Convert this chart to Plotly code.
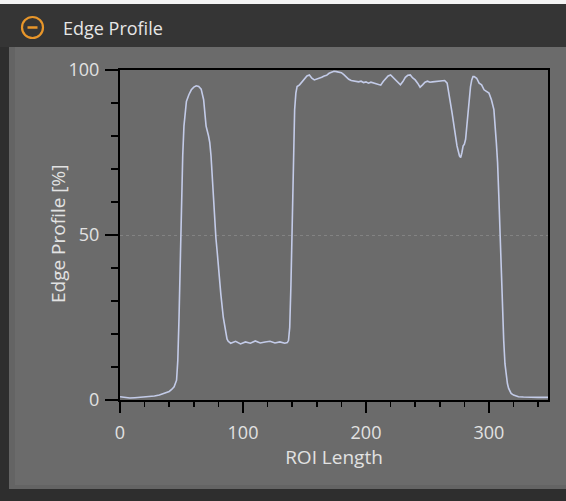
import plotly.graph_objects as go

roi_length = [
    0, 4, 8, 12, 16, 20, 24, 28, 32, 36,
    40, 42, 44, 46, 47, 48, 49, 50, 51, 52,
    53, 54, 56, 58, 60, 62, 64, 66, 68, 70,
    72, 73, 74, 75, 76, 77, 78, 79, 80, 82,
    84, 86, 87, 88, 90, 94, 98, 102, 106, 110,
    114, 118, 122, 126, 130, 134, 136, 137, 138, 139,
    140, 141, 142, 143, 144, 146, 148, 150, 152, 154,
    156, 158, 160, 162, 164, 166, 168, 170, 172, 174,
    176, 178, 180, 182, 184, 186, 188, 190, 192, 194,
    196, 198, 200, 202, 204, 206, 208, 210, 212, 214,
    216, 218, 220, 222, 224, 226, 228, 230, 232, 234,
    236, 238, 240, 242, 244, 246, 248, 250, 252, 254,
    256, 258, 260, 262, 264, 266, 268, 270, 272, 274,
    276, 277, 278, 279, 280, 281, 282, 283, 284, 285,
    286, 287, 288, 290, 292, 294, 296, 298, 300, 302,
    304, 306, 307, 308, 309, 310, 311, 312, 313, 314,
    315, 316, 318, 320, 324, 328, 332, 336, 340, 344,
    348,
]
edge_profile = [
    1.0, 0.8, 0.6, 0.7, 0.8, 0.9, 1.0, 1.2, 1.5, 2.0,
    2.6, 3.2, 4.0, 6.0, 12, 25, 42, 60, 74, 83,
    88, 90.5, 92.5, 94, 94.8, 95.2, 95, 94.2, 91, 83,
    80, 78, 74, 67, 60, 54, 49, 45, 40, 32,
    25, 20, 18.5, 17.8, 17.2, 17.8, 17.0, 17.6, 17.2, 17.9,
    17.3, 17.6, 17.8, 17.3, 17.6, 17.2, 17.4, 18, 22, 35,
    55, 75, 88, 93, 95, 95.5, 96.5, 97.5, 98.2, 98.5,
    97.5, 97, 97.2, 97.6, 97.8, 98.2, 98.4, 99, 99.3, 99.6,
    99.5, 99.4, 99.2, 98.6, 97.8, 97.2, 96.8, 96.6, 96.5, 96.4,
    96.6, 96.2, 96.4, 96.0, 96.3, 96.1, 95.8, 95.6, 95.4, 96.5,
    97.5, 98.2, 98.5, 97.8, 97, 96.2, 95.5, 96.5, 97.8, 98.4,
    98.5, 97.6, 97.0, 96, 94.8, 95.5, 96.3, 96.6, 96.3, 96.4,
    96.5, 96.6, 96.5, 96.7, 96.8, 96.0, 92, 87, 82, 77,
    74, 73.5, 75, 77, 77.5, 79, 83, 88, 92, 95,
    97, 98, 98, 97.5, 96, 95.5, 94, 93.5, 93, 91,
    88, 78, 72, 62, 50, 38, 27, 18, 11, 7,
    5, 3.5, 2, 1.5, 1.0, 0.9, 0.8, 0.8, 0.8, 0.8,
    0.8,
]
x_ticks = [0, 100, 200, 300]
y_ticks = [0, 50, 100]

W, H = 566, 501
L, R, T, B = 120, 18, 70, 101
PW, PH = W - L - R, H - T - B


def px(x):
    return (x - L) / PW


def py(y):
    return (H - B - y) / PH


PANEL = "#6b6b6b"
DARK = "#353535"
TXT = "#e2e2e2"
FONT = "Open Sans, sans-serif"

fig = go.Figure()
fig.add_trace(go.Scatter(
    x=roi_length, y=edge_profile, mode="lines",
    line=dict(color="#c3cbe8", width=1.6), hoverinfo="skip",
))

shapes = [
    dict(type="rect", xref="paper", yref="paper", x0=px(0), x1=px(W), y0=py(0), y1=py(47),
         fillcolor=DARK, line_width=0, layer="below"),
    dict(type="rect", xref="paper", yref="paper", x0=px(0), x1=px(W), y0=py(0), y1=py(4),
         fillcolor="#f4f4f4", line_width=0, layer="below"),
    dict(type="rect", xref="paper", yref="paper", x0=px(0), x1=px(9), y0=py(47), y1=py(H),
         fillcolor="#2e2e2e", line_width=0, layer="below"),
    dict(type="rect", xref="paper", yref="paper", x0=px(9), x1=px(15), y0=py(47), y1=py(489),
         fillcolor="#646464", line_width=0, layer="below"),
    dict(type="rect", xref="paper", yref="paper", x0=px(9), x1=px(W), y0=py(485), y1=py(489),
         fillcolor="#646464", line_width=0, layer="below"),
    dict(type="rect", xref="paper", yref="paper", x0=px(0), x1=px(W), y0=py(489), y1=py(H),
         fillcolor="#2e2e2e", line_width=0, layer="below"),
    dict(type="circle", xref="paper", yref="paper", x0=px(22), x1=px(43), y0=py(17), y1=py(38),
         line=dict(color="#e8962a", width=2.2), fillcolor="rgba(0,0,0,0)"),
    dict(type="line", xref="paper", yref="paper", x0=px(27.5), x1=px(37.5), y0=py(27.5), y1=py(27.5),
         line=dict(color="#e8962a", width=2.5)),
]

fig.update_layout(
    width=W, height=H,
    margin=dict(l=L, r=R, t=T, b=B, pad=0),
    paper_bgcolor=PANEL, plot_bgcolor=PANEL,
    showlegend=False,
    shapes=shapes,
    font=dict(family=FONT, color=TXT, size=18),
    annotations=[
        dict(text="Edge Profile", xref="paper", yref="paper", x=px(61), y=py(28),
             xanchor="left", yanchor="middle", showarrow=False,
             font=dict(size=18, color="#e6e6e6", family=FONT)),
        dict(text="Edge Profile [%]", xref="paper", yref="paper", x=px(58), y=py(234),
             xanchor="center", yanchor="middle", textangle=-90, showarrow=False,
             font=dict(size=19, color=TXT, family=FONT)),
    ],
    xaxis=dict(
        range=[0, 348], tickmode="array", tickvals=x_ticks,
        ticks="outside", ticklen=11, tickwidth=1.5, tickcolor="black",
        minor=dict(dtick=20, tick0=0, ticks="outside", ticklen=5, tickcolor="black", tickwidth=1.5),
        showline=True, linecolor="black", linewidth=2, mirror=True,
        showgrid=False, zeroline=False,
        tickfont=dict(size=18, color=TXT), ticklabelstandoff=4,
        title=dict(text="ROI Length", font=dict(size=19, color=TXT), standoff=4),
    ),
    yaxis=dict(
        range=[0, 100], tickmode="array", tickvals=y_ticks,
        ticks="outside", ticklen=13, tickwidth=1.5, tickcolor="black",
        minor=dict(dtick=10, tick0=0, ticks="outside", ticklen=7, tickcolor="black", tickwidth=1.5,
                   showgrid=False),
        showline=True, linecolor="black", linewidth=2, mirror=True,
        showgrid=True, gridcolor="#838383", gridwidth=1, griddash="dot",
        zeroline=False,
        tickfont=dict(size=18, color=TXT), ticklabelstandoff=2,
    ),
)

fig.write_html(
    "out.html",
    config={"displayModeBar": False, "staticPlot": True},
    post_script="document.body.style.margin='0';document.body.style.overflow='hidden';",
)
